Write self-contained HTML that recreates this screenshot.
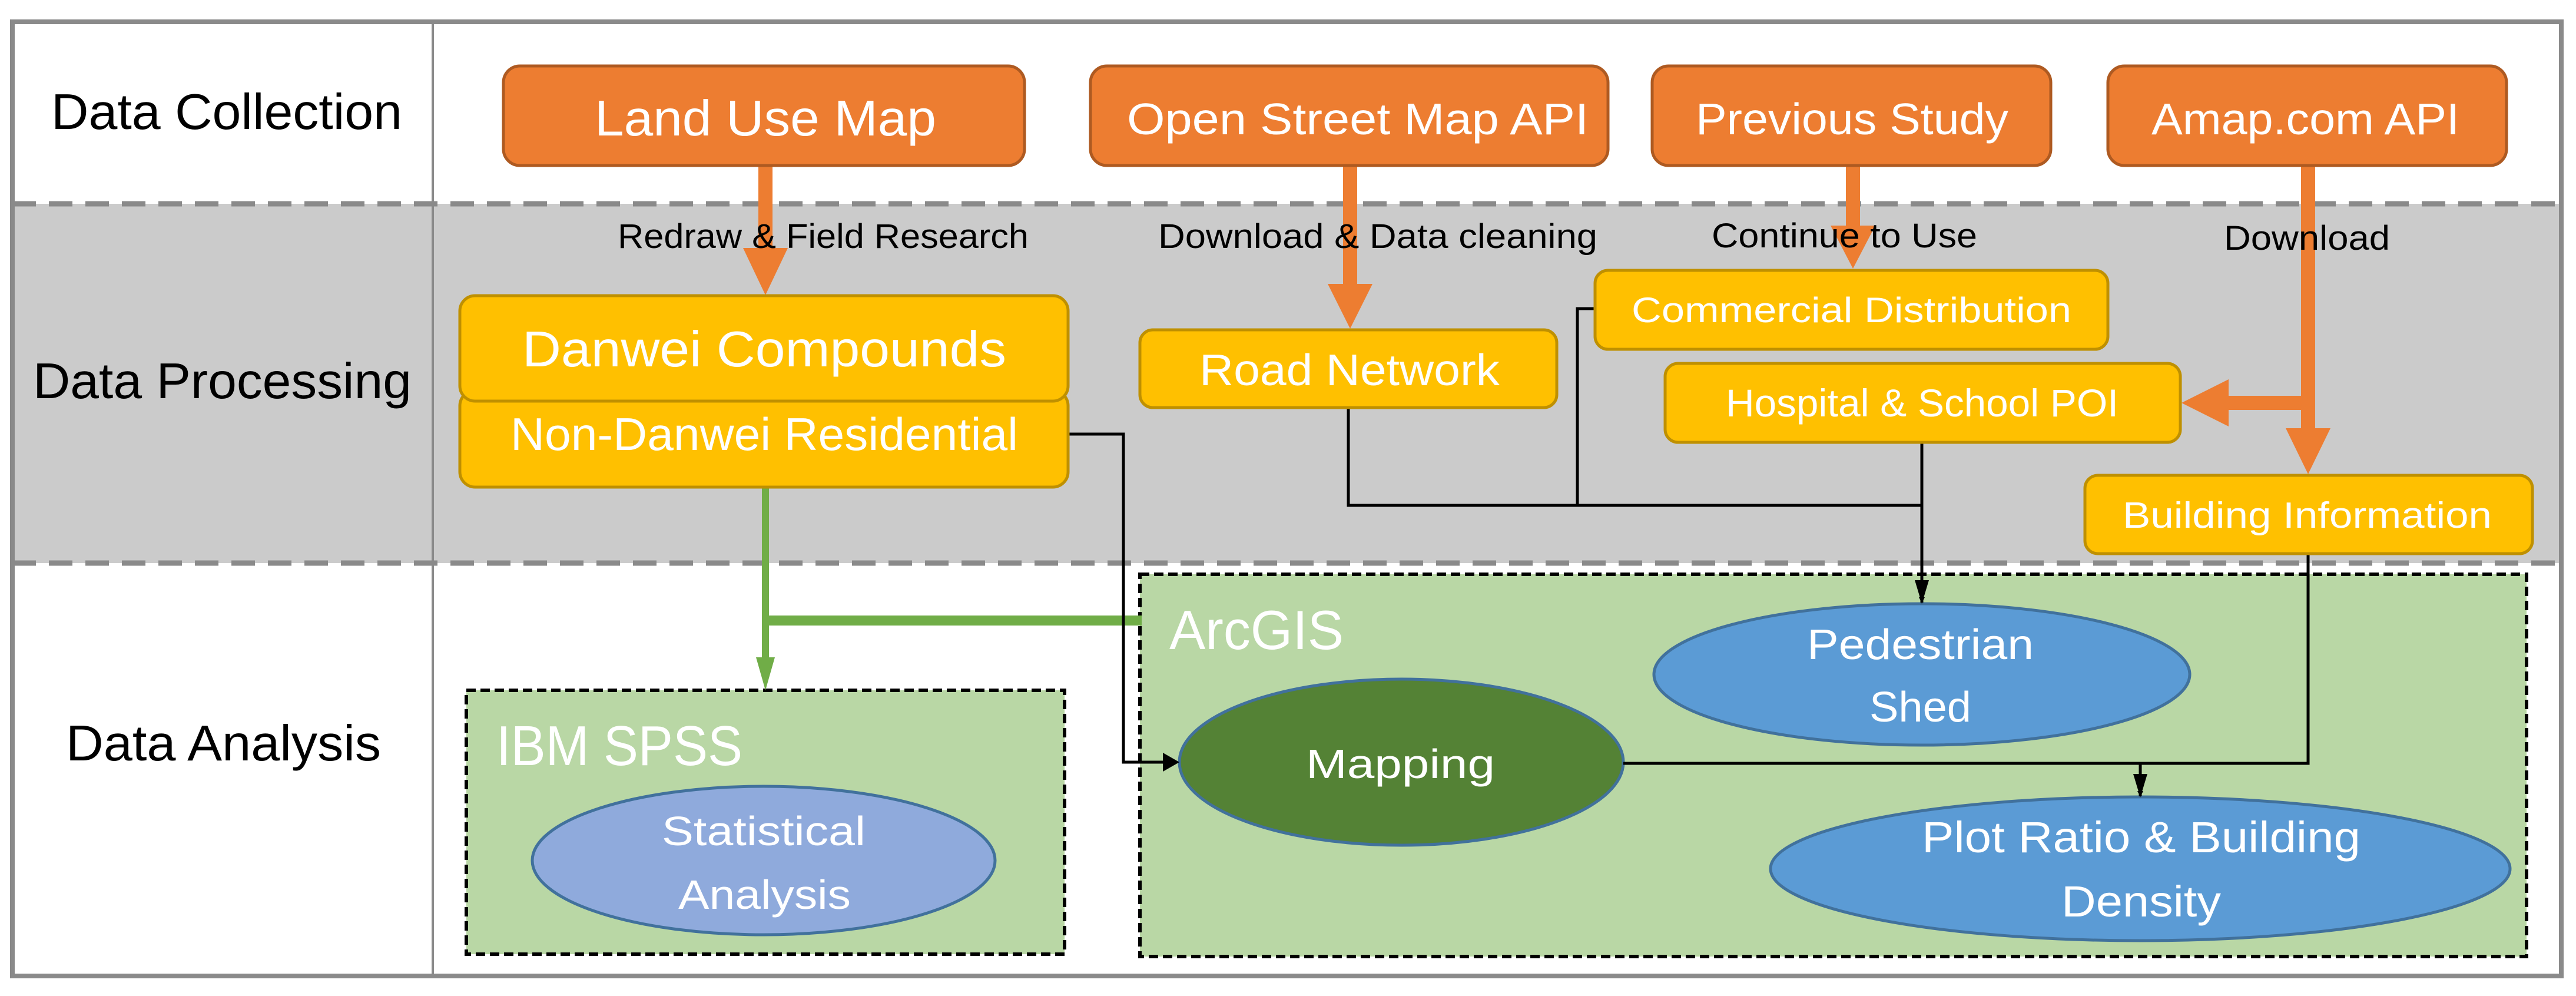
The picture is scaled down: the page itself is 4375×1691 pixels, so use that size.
<!DOCTYPE html>
<html><head><meta charset="utf-8"><style>html,body{margin:0;padding:0;background:#fff}svg{display:block}</style></head>
<body>
<svg width="4375" height="1691" viewBox="0 0 4375 1691" xmlns="http://www.w3.org/2000/svg">
<defs>
<marker id="ab" markerWidth="10" markerHeight="10" refX="9" refY="5" orient="auto" markerUnits="userSpaceOnUse" viewBox="0 0 10 10"><path d="M0,0 L10,5 L0,10 z" fill="#000"/></marker>
</defs>
<rect x="0" y="0" width="4375" height="1691" fill="#fff"/>
<rect x="21" y="346" width="4329" height="610" fill="#cbcbcb"/>
<rect x="21" y="37" width="4329" height="1620" fill="none" stroke="#8a8a8a" stroke-width="8"/>
<line x1="735" y1="37" x2="735" y2="1657" stroke="#8a8a8a" stroke-width="4"/>
<line x1="21" y1="346" x2="4350" y2="346" stroke="#8a8a8a" stroke-width="9" stroke-dasharray="40,22"/>
<line x1="21" y1="956" x2="4350" y2="956" stroke="#8a8a8a" stroke-width="9" stroke-dasharray="40,22"/>

<rect x="792" y="1172" width="1016" height="448" fill="#b9d7a5" stroke="#000" stroke-width="6" stroke-dasharray="16,8"/>
<rect x="1936" y="975" width="2355" height="649" fill="#b9d7a5" stroke="#000" stroke-width="6" stroke-dasharray="16,8"/>

<g fill="#ed7d31">
<rect x="1288" y="281" width="24" height="145"/><path d="M1262,421 L1338,421 L1300,501 z"/>
<rect x="2281" y="281" width="24" height="205"/><path d="M2255,482 L2331,482 L2293,558 z"/>
<rect x="3135" y="281" width="24" height="107"/><path d="M3109,383 L3185,383 L3147,456 z"/>
<rect x="3908" y="281" width="24" height="450"/><path d="M3882,727 L3958,727 L3920,805 z"/>
<rect x="3780" y="672" width="140" height="24"/><path d="M3785,644 L3785,724 L3705,684 z"/>
</g>

<g font-family="Liberation Sans, sans-serif" fill="#000">
<text x="87" y="219" font-size="85" textLength="596" lengthAdjust="spacingAndGlyphs">Data Collection</text>
<text x="56" y="676" font-size="85" textLength="643" lengthAdjust="spacingAndGlyphs">Data Processing</text>
<text x="112" y="1291" font-size="85" textLength="535" lengthAdjust="spacingAndGlyphs">Data Analysis</text>
<text x="1049" y="421" font-size="58" textLength="698" lengthAdjust="spacingAndGlyphs">Redraw &amp; Field Research</text>
<text x="1967" y="421" font-size="58" textLength="746" lengthAdjust="spacingAndGlyphs">Download &amp; Data cleaning</text>
<text x="2907" y="420" font-size="58" textLength="451" lengthAdjust="spacingAndGlyphs">Continue to Use</text>
<text x="3777" y="424" font-size="58" textLength="282" lengthAdjust="spacingAndGlyphs">Download</text>
</g>

<g fill="#70ad47">
<rect x="1294" y="827" width="12" height="295"/><path d="M1284,1116 L1316,1116 L1300,1172 z"/>
<rect x="1300" y="1045" width="639" height="17"/>
</g>

<ellipse cx="1297" cy="1461" rx="393" ry="126" fill="#8faadc" stroke="#41719c" stroke-width="5"/>
<ellipse cx="2380" cy="1294" rx="377" ry="141" fill="#548235" stroke="#41719c" stroke-width="5"/>
<ellipse cx="3264" cy="1145" rx="455" ry="120" fill="#5b9bd5" stroke="#41719c" stroke-width="5"/>
<ellipse cx="3635" cy="1475" rx="628" ry="122" fill="#5b9bd5" stroke="#41719c" stroke-width="5"/>

<g fill="none" stroke="#000" stroke-width="5">
<polyline points="1814,737 1908,737 1908,1294 1985,1294" marker-end="url(#ab)"/>
<polyline points="2290,692 2290,858 3264,858"/>
<polyline points="2709,524 2679,524 2679,858"/>
<polyline points="3264,751 3264,1023" marker-end="url(#ab)"/>
<polyline points="3920,940 3920,1296 2757,1296"/>
<polyline points="3635,1296 3635,1352" marker-end="url(#ab)"/>
</g>
<g fill="#000">
<path d="M1975,1278 L2003,1294 L1975,1310 z"/>
<path d="M3252,985 L3276,985 L3264,1025 z"/>
<path d="M3623,1314 L3647,1314 L3635,1354 z"/>
</g>

<g fill="#ed7d31" stroke="#ae5a21" stroke-width="5">
<rect x="855" y="112" width="885" height="169" rx="28"/>
<rect x="1852" y="112" width="879" height="169" rx="28"/>
<rect x="2806" y="112" width="677" height="169" rx="28"/>
<rect x="3580" y="112" width="677" height="169" rx="28"/>
</g>
<g fill="#ffc000" stroke="#bf9000" stroke-width="5">
<rect x="781" y="663" width="1033" height="164" rx="26"/>
<rect x="781" y="502" width="1033" height="179" rx="26"/>
<rect x="1936" y="560" width="708" height="132" rx="22"/>
<rect x="2709" y="459" width="871" height="134" rx="22"/>
<rect x="2828" y="617" width="875" height="134" rx="22"/>
<rect x="3541" y="807" width="760" height="133" rx="22"/>
</g>

<g font-family="Liberation Sans, sans-serif" fill="#fff">
<text x="1010" y="230" font-size="85" textLength="580" lengthAdjust="spacingAndGlyphs">Land Use Map</text>
<text x="1914" y="228" font-size="75" textLength="784" lengthAdjust="spacingAndGlyphs">Open Street Map API</text>
<text x="2880" y="228" font-size="75" textLength="531" lengthAdjust="spacingAndGlyphs">Previous Study</text>
<text x="3654" y="228" font-size="75" textLength="523" lengthAdjust="spacingAndGlyphs">Amap.com API</text>
<text x="887" y="622" font-size="85" textLength="822" lengthAdjust="spacingAndGlyphs">Danwei Compounds</text>
<text x="867" y="764" font-size="78" textLength="862" lengthAdjust="spacingAndGlyphs">Non-Danwei Residential</text>
<text x="2037" y="654" font-size="75" textLength="510" lengthAdjust="spacingAndGlyphs">Road Network</text>
<text x="2771" y="547" font-size="60" textLength="747" lengthAdjust="spacingAndGlyphs">Commercial Distribution</text>
<text x="2931" y="707" font-size="66" textLength="667" lengthAdjust="spacingAndGlyphs">Hospital &amp; School POI</text>
<text x="3605" y="896" font-size="62" textLength="627" lengthAdjust="spacingAndGlyphs">Building Information</text>
<text x="843" y="1299" font-size="96" textLength="418" lengthAdjust="spacingAndGlyphs">IBM SPSS</text>
<text x="1986" y="1102" font-size="94" textLength="296" lengthAdjust="spacingAndGlyphs">ArcGIS</text>
<text x="1124" y="1435" font-size="70" textLength="346" lengthAdjust="spacingAndGlyphs">Statistical</text>
<text x="1152" y="1543" font-size="70" textLength="293" lengthAdjust="spacingAndGlyphs">Analysis</text>
<text x="2218" y="1321" font-size="70" textLength="321" lengthAdjust="spacingAndGlyphs">Mapping</text>
<text x="3069" y="1119" font-size="72" textLength="385" lengthAdjust="spacingAndGlyphs">Pedestrian</text>
<text x="3175" y="1225" font-size="72" textLength="173" lengthAdjust="spacingAndGlyphs">Shed</text>
<text x="3264" y="1447" font-size="74" textLength="745" lengthAdjust="spacingAndGlyphs">Plot Ratio &amp; Building</text>
<text x="3501" y="1556" font-size="74" textLength="271" lengthAdjust="spacingAndGlyphs">Density</text>
</g>
</svg>
</body></html>
